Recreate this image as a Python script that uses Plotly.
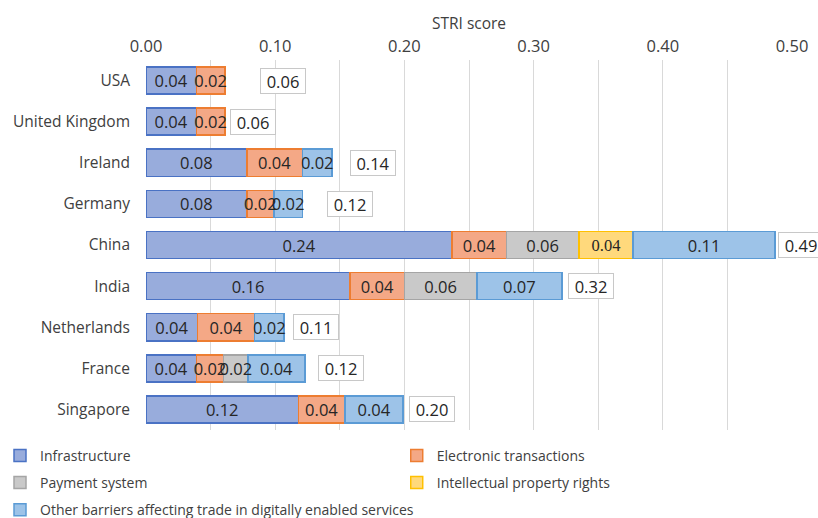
import plotly.graph_objects as go

# Countries, top to bottom
countries = ["USA", "United Kingdom", "Ireland", "Germany", "China",
             "India", "Netherlands", "France", "Singapore"]

# STRI component scores per country (None = no restriction in that area)
infrastructure = [0.039, 0.039, 0.078, 0.078, 0.237, 0.158, 0.040, 0.039, 0.118]
electronic_tx  = [0.022, 0.022, 0.043, 0.021, 0.042, 0.042, 0.044, 0.021, 0.036]
payment_system = [None, None, None, None, 0.056, 0.056, None, 0.019, None]
ip_rights      = [None, None, None, None, 0.042, None, None, None, None]
other_barriers = [None, None, 0.023, 0.022, 0.110, 0.066, 0.023, 0.044, 0.045]

x_ticks = [0.0, 0.1, 0.2, 0.3, 0.4, 0.5]

# name, values, fill, outline, legend column
series = [
    ("Infrastructure", infrastructure, "#98acdc", "#4a72c4", "legend"),
    ("Electronic transactions", electronic_tx, "#f4a886", "#ed7d31", "legend2"),
    ("Payment system", payment_system, "#c9c9c9", "#a5a5a5", "legend"),
    ("Intellectual property rights", ip_rights, "#ffd97c", "#ffc000", "legend2"),
    ("Other barriers affecting trade in digitally enabled services",
     other_barriers, "#9dc3e8", "#5b9bd5", "legend"),
]

# gap (px) between each bar's end and its total box
total_gap = [35, 5, 18, 25, 3, 6, 9, 13, 6]

NUM_SIZE = 16.5

fig = go.Figure()

# coloured stacked segments
for name, vals, fill, edge, leg in series:
    fig.add_trace(go.Bar(
        y=countries, x=vals, name=name, orientation="h",
        legend=leg, legendgroup=name,
        marker=dict(color=fill, line=dict(color=edge, width=1.5)),
        cliponaxis=False,
    ))

# value labels: a transparent copy of the stack on an overlaid axis,
# so every label sits above all of the coloured segments
for name, vals, fill, edge, leg in series:
    is_ip = name.startswith("Intellectual")
    fig.add_trace(go.Bar(
        y=countries, x=vals, name=name, orientation="h", yaxis="y2",
        showlegend=False, hoverinfo="skip",
        marker=dict(color="rgba(0,0,0,0)", line=dict(width=0)),
        text=vals, texttemplate="%{x:.2f}",
        textposition="inside", insidetextanchor="middle",
        textangle=0, constraintext="none",
        insidetextfont=dict(
            family="Liberation Serif" if is_ip else "Open Sans",
            size=NUM_SIZE, color="#262626"),
        cliponaxis=False,
    ))

totals = []
for i in range(len(countries)):
    s = 0.0
    for _, vals, _, _, _ in series:
        if vals[i] is not None:
            s += vals[i]
    totals.append(s)

for c, t, g in zip(countries, totals, total_gap):
    fig.add_annotation(
        x=t, y=c, xref="x", yref="y", text=f"{t:.2f}",
        showarrow=False, xanchor="left", xshift=g,
        width=40, height=20, align="center",
        font=dict(family="Open Sans", size=NUM_SIZE, color="#262626"),
        bgcolor="white", bordercolor="#c8c8c8", borderwidth=1, borderpad=2,
    )

legend_style = dict(
    orientation="v", xref="container", yref="container",
    y=0.151, yanchor="top", xanchor="left",
    font=dict(family="Open Sans", size=14, color="#404040"),
    itemwidth=30, tracegroupgap=6, traceorder="grouped",
    bgcolor="rgba(0,0,0,0)",
)

fig.update_layout(
    width=818, height=518,
    margin=dict(l=146, r=26, t=60, b=88, autoexpand=False),
    paper_bgcolor="white", plot_bgcolor="white",
    barmode="stack", bargap=0.34,
    uniformtext=dict(minsize=NUM_SIZE, mode="show"),
    font=dict(family="Open Sans", size=15, color="#404040"),
    showlegend=True,
    legend=dict(legend_style, x=0.0),
    legend2=dict(legend_style, x=0.485),
    yaxis2=dict(overlaying="y", matches="y", visible=False),
)

fig.update_xaxes(
    side="top", range=[0, 0.5], tickvals=x_ticks, tickformat=".2f",
    showgrid=True, gridcolor="#d9d9d9", gridwidth=1,
    minor=dict(dtick=0.05, showgrid=True, gridcolor="#d9d9d9", gridwidth=1),
    zeroline=False, showline=False, ticks="", ticklabelstandoff=4,
    tickfont=dict(size=NUM_SIZE, color="#404040"),
    title=dict(text="STRI score", font=dict(size=15.5, color="#404040"),
               standoff=0),
)
fig.update_layout(yaxis=dict(
    autorange="reversed", showgrid=False, zeroline=False, showline=False,
    ticks="", ticklabelstandoff=15,
    tickfont=dict(size=15.5, color="#404040"),
))

fig.write_html("out.html")
